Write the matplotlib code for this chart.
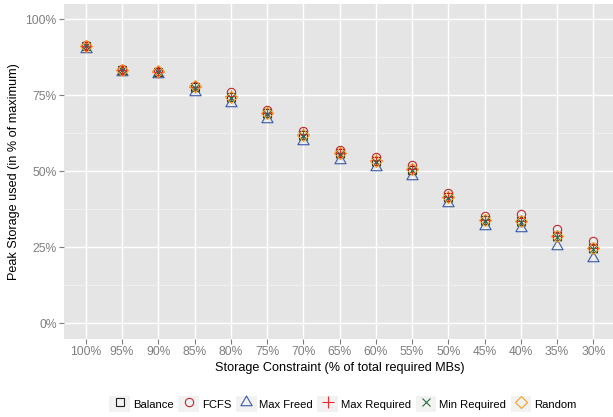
import matplotlib
matplotlib.use("Agg")
import matplotlib.pyplot as plt
from matplotlib.path import Path
from matplotlib.markers import MarkerStyle
from matplotlib.patches import Rectangle
from matplotlib.legend_handler import HandlerLine2D
from matplotlib.ticker import FixedLocator

plt.rcParams['font.family'] = ['Liberation Sans', 'DejaVu Sans']

# Storage constraint levels (x axis categories)
categories = ['100%', '95%', '90%', '85%', '80%', '75%', '70%', '65%',
              '60%', '55%', '50%', '45%', '40%', '35%', '30%']

# Peak storage used, in % of maximum, per scheduling strategy
balance      = [91.2, 83.3, 82.7, 77.8, 74.4, 69.0, 62.0, 56.0, 53.4, 50.5, 41.4, 34.0, 33.6, 28.6, 24.7]
fcfs         = [91.5, 83.5, 82.9, 78.0, 76.0, 70.2, 63.2, 57.0, 54.8, 51.9, 42.9, 35.4, 36.0, 30.9, 27.0]
max_freed    = [90.0, 82.5, 81.9, 76.0, 72.5, 67.2, 59.9, 53.6, 51.3, 48.6, 39.6, 32.1, 31.4, 25.3, 21.5]
max_required = [91.3, 83.3, 82.7, 77.7, 74.6, 69.2, 62.1, 56.1, 53.6, 50.7, 41.6, 34.1, 33.8, 28.8, 24.9]
min_required = [91.1, 83.2, 82.6, 77.5, 74.2, 68.8, 61.7, 55.7, 53.2, 50.3, 41.2, 33.8, 33.3, 28.4, 24.5]
random_      = [91.3, 83.4, 82.8, 77.9, 74.5, 69.2, 62.0, 56.0, 53.5, 50.6, 41.5, 34.0, 33.8, 28.7, 24.9]

series_names = ['Balance', 'FCFS', 'Max Freed', 'Max Required', 'Min Required', 'Random']
y_ticks = [0, 25, 50, 75, 100]
y_tick_labels = ['0%', '25%', '50%', '75%', '100%']

# Open triangle centred on its centroid (like R's pch 2)
tri_path = Path([(0, 1.555), (-1.347, -0.7775), (1.347, -0.7775), (0, 1.555)],
                [Path.MOVETO, Path.LINETO, Path.LINETO, Path.CLOSEPOLY])
triangle = MarkerStyle(tri_path)

styles = [
    dict(marker='s', ms=5.3, color='#1f1f1f'),
    dict(marker='o', ms=6.0, color='#BE2A2E'),
    dict(marker=triangle, ms=9.3, color='#3A5BA8'),
    dict(marker='+', ms=8.4, color='#F02A2A'),
    dict(marker='x', ms=6.0, color='#2D6B3E'),
    dict(marker='D', ms=6.0, color='#F5A020'),
]
values = [balance, fcfs, max_freed, max_required, min_required, random_]

W, H = 613, 417
fig = plt.figure(figsize=(W / 100, H / 100), dpi=100)
ax = fig.add_axes([64 / W, 78.3 / H, 551 / W, 334.9 / H])
ax.set_facecolor('#E5E5E5')
for s in ax.spines.values():
    s.set_visible(False)

handles = []
for name, st, vals in zip(series_names, styles, values):
    h, = ax.plot(categories, vals, linestyle='none', marker=st['marker'],
                 markersize=st['ms'], markerfacecolor='none',
                 markeredgecolor=st['color'], markeredgewidth=0.8,
                 label=name, zorder=3)
    handles.append(h)

ax.set_xlim(-0.6, len(categories) - 0.4)
ax.set_ylim(-5, 105)
ax.set_yticks(y_ticks)
ax.set_yticklabels(y_tick_labels)
ax.yaxis.set_minor_locator(FixedLocator([12.5, 37.5, 62.5, 87.5]))

ax.grid(True, which='major', color='white', linewidth=1.0, zorder=0)
ax.grid(True, which='minor', axis='y', color='#F2F2F2', linewidth=0.6, zorder=0)
ax.set_axisbelow(True)
ax.tick_params(axis='both', which='major', colors='#7F7F7F', length=3.4,
               width=0.8, labelsize=8.7, pad=2)
ax.tick_params(axis='both', which='minor', length=0)

ax.set_xlabel('Storage Constraint (% of total required MBs)', fontsize=9.1,
              color='black', labelpad=3)
ax.set_ylabel('Peak Storage used (in % of maximum)', fontsize=9.1,
              color='black', labelpad=4)


class KeyHandler(HandlerLine2D):
    """Legend key drawn on a light grey square."""
    def create_artists(self, legend, orig_handle, xdescent, ydescent,
                       width, height, fontsize, trans):
        arts = super().create_artists(legend, orig_handle, xdescent, ydescent,
                                      width, height, fontsize, trans)
        rect = Rectangle((-xdescent, -ydescent), width, height,
                         facecolor='#F2F2F2', edgecolor='none', transform=trans)
        return [rect] + list(arts)


leg = fig.legend(handles=handles, labels=series_names, loc='center',
                 bbox_to_anchor=(343 / W, 1 - 404 / H), ncol=6, frameon=False,
                 fontsize=8.1, numpoints=1, handlelength=1.85, handleheight=1.75,
                 handletextpad=0.25, columnspacing=0.4, borderpad=0,
                 handler_map={h: KeyHandler() for h in handles})

fig.savefig('out.png', dpi=100)
